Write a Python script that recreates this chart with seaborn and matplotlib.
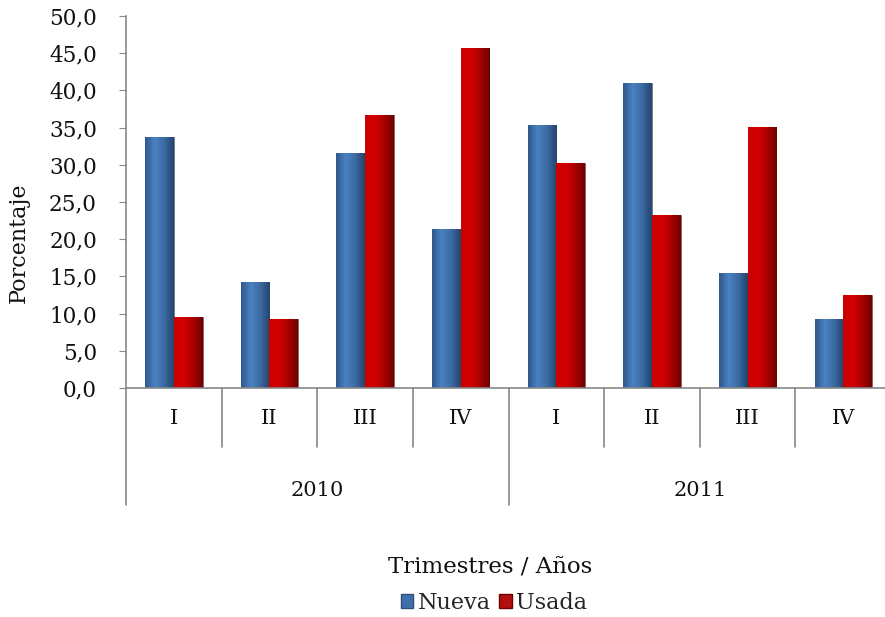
import numpy as np
import pandas as pd
import matplotlib
matplotlib.use('Agg')
import matplotlib.pyplot as plt
import seaborn as sns
from matplotlib.colors import LinearSegmentedColormap
from matplotlib.ticker import FuncFormatter, MultipleLocator
from matplotlib.patches import Patch

years = ['2010', '2011']
quarters = ['I', 'II', 'III', 'IV']
nueva = [33.7, 14.3, 31.6, 21.4, 35.3, 41.0, 15.4, 9.3]
usada = [9.5, 9.3, 36.7, 45.7, 30.2, 23.3, 35.1, 12.5]

periods = [f'{y} {q}' for y in years for q in quarters]
df = pd.DataFrame({
    'Periodo': periods * 2,
    'Serie': ['Nueva'] * len(periods) + ['Usada'] * len(periods),
    'Porcentaje': nueva + usada,
})

sns.set_style('white')
plt.rcParams['font.family'] = ['DejaVu Serif']

fig = plt.figure(figsize=(8.85, 6.17), dpi=100)
ax = fig.add_axes([126 / 885, 1 - 388 / 617, 765 / 885, 372 / 617])

blue, red = '#3d6ba3', '#b30000'
sns.barplot(data=df, x='Periodo', y='Porcentaje', hue='Serie',
            palette={'Nueva': blue, 'Usada': red}, width=0.6,
            saturation=1, legend=False, ax=ax)

# horizontal shading on each bar, like the original 3D-ish bars
cmaps = {
    blue: LinearSegmentedColormap.from_list('b', ['#30588c', '#4a82c2', '#3c6aa3', '#24446c']),
    red: LinearSegmentedColormap.from_list('r', ['#c80000', '#d40000', '#a80000', '#6e0000']),
}
grad = np.linspace(0, 1, 64).reshape(1, -1)
for i, p in enumerate(ax.patches):
    x0, w, h = p.get_x(), p.get_width(), p.get_height()
    if h <= 0:
        continue
    cm = cmaps[blue] if i < len(periods) else cmaps[red]
    im = ax.imshow(grad, cmap=cm, extent=[x0, x0 + w, 0, h], aspect='auto',
                   zorder=p.get_zorder() + 0.1)
    im.set_clip_path(p)
    p.set_edgecolor('#555555')
    p.set_linewidth(0.4)

ax.set_xlim(-0.5, len(periods) - 0.5)
ax.set_ylim(0, 50)
ax.yaxis.set_major_locator(MultipleLocator(5))
ax.yaxis.set_major_formatter(FuncFormatter(lambda v, _: f'{v:.1f}'.replace('.', ',')))
ax.tick_params(axis='y', left=True, length=5, color='#888888', labelsize=15.5, pad=16,
               labelcolor='#111111')
ax.set_xticks([])
ax.set_xlabel('')
ax.set_ylabel('Porcentaje', fontsize=16, color='#111111')
ax.yaxis.set_label_coords(-96 / 765, 0.39)

for side in ['top', 'right']:
    ax.spines[side].set_visible(False)
for side in ['left', 'bottom']:
    ax.spines[side].set_color('#888888')
    ax.spines[side].set_linewidth(1.2)

# hierarchical category axis
px = 1 / 372  # one pixel in axes-y units
trans = ax.get_xaxis_transform()
for k in range(len(periods) + 1):
    xb = k - 0.5
    depth = 117 if k % len(quarters) == 0 else 59
    ax.plot([xb, xb], [0, -depth * px], transform=trans, color='#888888',
            lw=1.2, clip_on=False)
for k, lab in enumerate(periods):
    ax.text(k, -30 * px, lab.split()[1], transform=trans, ha='center', va='center',
            fontsize=15, color='#111111')
for j, y in enumerate(years):
    ax.text(j * len(quarters) + 1.5, -102 * px, y, transform=trans, ha='center',
            va='center', fontsize=15, color='#111111')

fig.text(490 / 885, 1 - 568 / 617, 'Trimestres / Años', ha='center', va='center',
         fontsize=16.5, color='#111111')
handles = [Patch(facecolor='#3f70ad', edgecolor='#2c4f7c', label='Nueva'),
           Patch(facecolor='#b01010', edgecolor='#6e0000', label='Usada')]
fig.legend(handles=handles, loc='center', bbox_to_anchor=(494 / 885, 1 - 603 / 617),
           ncol=2, frameon=False, fontsize=16, handlelength=0.55, handleheight=0.55,
           handletextpad=0.2, columnspacing=0.4)

fig.savefig('out.png', dpi=100)
